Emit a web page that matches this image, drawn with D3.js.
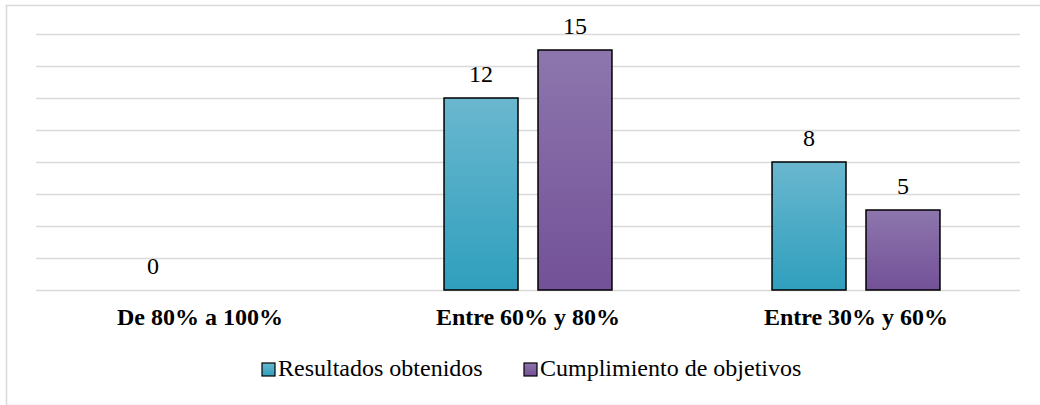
<!DOCTYPE html>
<html>
<head>
<meta charset="utf-8">
<script src="https://cdn.jsdelivr.net/npm/d3@7"></script>
<style>
  html, body { margin: 0; padding: 0; background: #fff; }
  svg { display: block; }
</style>
</head>
<body>
<svg id="chart" width="1040" height="405"></svg>
<script>
// Categories and the two series (null = no bar drawn)
const categories = ["De 80% a 100%", "Entre 60% y 80%", "Entre 30% y 60%"];
const seriesNames = ["Resultados obtenidos", "Cumplimiento de objetivos"];
const resultados = [0, 12, 8];
const cumplimiento = [null, 15, 5];
const yTicks = [0, 2, 4, 6, 8, 10, 12, 14, 16];

const seriesValues = [resultados, cumplimiento];
const svg = d3.select("#chart");
const W = 1040, H = 405;
const font = "'Liberation Serif', 'Times New Roman', serif";

// Gradient fills for each series
const defs = svg.append("defs");
const gradStops = [
  ["#6ab7cf", "#2f9fbd"],
  ["#8d76ad", "#735198"]
];
gradStops.forEach((s, i) => {
  const g = defs.append("linearGradient")
    .attr("id", "grad" + i).attr("x1", 0).attr("y1", 0).attr("x2", 0).attr("y2", 1);
  g.append("stop").attr("offset", "0%").attr("stop-color", s[0]);
  g.append("stop").attr("offset", "100%").attr("stop-color", s[1]);
});

// Chart area frame
svg.append("rect")
  .attr("x", 6.5).attr("y", 5.5)
  .attr("width", W).attr("height", H - 5)
  .attr("fill", "none").attr("stroke", "#d9d9d9").attr("stroke-width", 1.5);

const plot = { left: 36, right: 1020, top: 34, bottom: 290 };

const x0 = d3.scaleBand().domain(categories).range([plot.left, plot.right]);
const groupW = x0.bandwidth() * 0.512;
const x1 = d3.scaleBand().domain(d3.range(seriesNames.length))
  .range([-groupW / 2, groupW / 2]).paddingInner(20 / 94).paddingOuter(0);
const y = d3.scaleLinear().domain([0, 16]).range([plot.bottom, plot.top]);

// Horizontal gridlines
const yAxis = d3.axisLeft(y).tickValues(yTicks)
  .tickSize(-(plot.right - plot.left)).tickFormat("");
const ga = svg.append("g").attr("transform", `translate(${plot.left},0)`).call(yAxis);
ga.select(".domain").remove();
ga.selectAll(".tick line").attr("stroke", "#d9d9d9").attr("stroke-width", 1.5);

// Bars and value labels
const groups = svg.append("g").selectAll("g")
  .data(categories).join("g")
  .attr("transform", d => `translate(${x0(d) + x0.bandwidth() / 2},0)`);

groups.each(function (cat, ci) {
  const g = d3.select(this);
  seriesValues.forEach((vals, si) => {
    const v = vals[ci];
    if (v === null) return;
    if (v > 0) {
      g.append("rect")
        .attr("x", x1(si)).attr("y", y(v))
        .attr("width", x1.bandwidth()).attr("height", y(0) - y(v))
        .attr("fill", `url(#grad${si})`)
        .attr("stroke", "#000").attr("stroke-width", 1.5);
    }
    g.append("text")
      .attr("x", x1(si) + x1.bandwidth() / 2)
      .attr("y", y(v) - 16)
      .attr("text-anchor", "middle")
      .attr("font-family", font).attr("font-size", 24)
      .attr("fill", "#000")
      .text(v);
  });
});

// Category labels
const xAxis = d3.axisBottom(x0).tickSize(0).tickPadding(0);
const gx = svg.append("g").attr("transform", `translate(0,${plot.bottom})`).call(xAxis);
gx.select(".domain").remove();
gx.selectAll(".tick text")
  .attr("y", 35).attr("dy", 0)
  .attr("font-family", font).attr("font-size", 24).attr("font-weight", "bold")
  .attr("fill", "#000");

// Legend
const legendX = [262, 524];
const legend = svg.append("g");
seriesNames.forEach((name, i) => {
  legend.append("rect")
    .attr("x", legendX[i]).attr("y", 363)
    .attr("width", 13).attr("height", 13)
    .attr("fill", `url(#grad${i})`)
    .attr("stroke", "#000").attr("stroke-width", 1.2);
  legend.append("text")
    .attr("x", legendX[i] + 16).attr("y", 376)
    .attr("font-family", font).attr("font-size", 24)
    .attr("fill", "#000")
    .text(name);
});
</script>
</body>
</html>
